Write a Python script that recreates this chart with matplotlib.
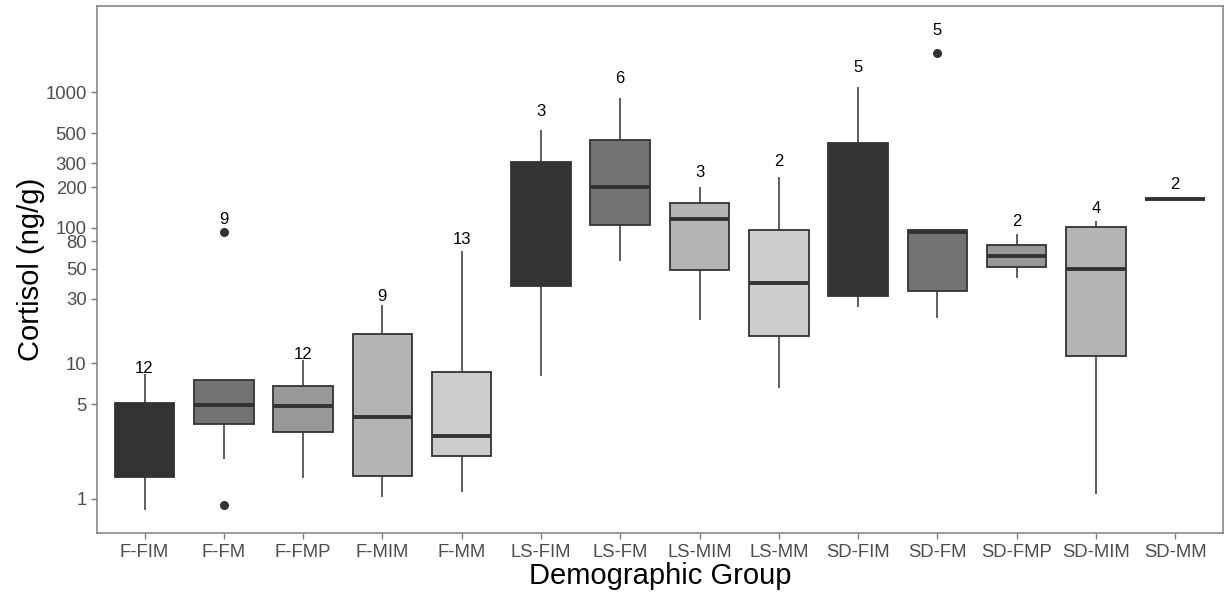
import numpy as np
import matplotlib
matplotlib.use("Agg")
import matplotlib.pyplot as plt
from matplotlib.patches import Rectangle

groups = ["F-FIM", "F-FM", "F-FMP", "F-MIM", "F-MM",
          "LS-FIM", "LS-FM", "LS-MIM", "LS-MM",
          "SD-FIM", "SD-FM", "SD-FMP", "SD-MIM", "SD-MM"]
habitat = ["FIM", "FM", "FMP", "MIM", "MM",
           "FIM", "FM", "MIM", "MM",
           "FIM", "FM", "FMP", "MIM", "MM"]
whisker_low = [0.83, 1.96, 1.42, 1.04, 1.12, 8.06, 56.7, 21.1, 6.54, 26.1, 21.5, 42.7, 1.09, 163]
q1 =          [1.45, 3.57, 3.13, 1.48, 2.07, 37.1, 104.5, 49.3, 16.0, 31.3, 34.1, 51.5, 11.4, 163]
median =      [3.0, 4.93, 4.87, 4.04, 2.91, 100, 200, 116, 39.3, 120, 94, 62.1, 49.5, 163]
q3 =          [5.07, 7.53, 6.84, 16.6, 8.58, 304, 448, 152, 97.1, 422, 96, 75.3, 101.6, 163]
whisker_high = [8.4, 7.6, 10.6, 26.9, 67.6, 530, 912, 200, 237, 1092, 96, 90.8, 112, 163]
outliers = [[], [94, 0.91], [], [], [], [], [], [], [], [], [1959], [], [], []]
counts = [12, 9, 12, 9, 13, 3, 6, 3, 2, 5, 5, 2, 4, 2]

habitat_levels = ["FIM", "FM", "FMP", "MIM", "MM"]
grey_fills = ["#333333", "#737373", "#989898", "#B4B4B4", "#CCCCCC"]
fill_map = dict(zip(habitat_levels, grey_fills))

plt.rcParams['font.family'] = ['Liberation Sans', 'DejaVu Sans']

fig = plt.figure(figsize=(12.24, 5.95), dpi=100)
ax = fig.add_axes([0.0792, 0.104, 0.9198, 0.8866])

edge = "#333333"
width = 0.75
for i, g in enumerate(groups):
    x = i + 1
    # whiskers
    ax.plot([x, x], [q3[i], whisker_high[i]], color=edge, lw=1.1, zorder=2, solid_capstyle='butt')
    ax.plot([x, x], [whisker_low[i], q1[i]], color=edge, lw=1.1, zorder=2, solid_capstyle='butt')
    # box
    rect = Rectangle((x - width / 2, q1[i]), width, q3[i] - q1[i],
                     facecolor=fill_map[habitat[i]], edgecolor=edge, lw=1.3, zorder=3)
    ax.add_patch(rect)
    # median
    ax.plot([x - width / 2, x + width / 2], [median[i], median[i]], color=edge, lw=2.8,
            zorder=4, solid_capstyle='butt')
    # outliers
    for o in outliers[i]:
        ax.plot(x, o, 'o', color=edge, ms=5.5, zorder=5)
    # count label above the highest point
    top = max([whisker_high[i]] + outliers[i])
    label_y = top ** 1.052 * 0.977
    ax.text(x, label_y, str(counts[i]), ha='center', va='center', fontsize=12,
            color='black', zorder=6)

ax.set_yscale('log')
ax.set_ylim(0.56, 4370)
ax.set_xlim(0.4, len(groups) + 0.6)
yticks = [1, 5, 10, 30, 50, 80, 100, 200, 300, 500, 1000]
ax.set_yticks(yticks)
ax.set_yticklabels([str(t) for t in yticks])
ax.yaxis.set_minor_locator(matplotlib.ticker.NullLocator())
ax.set_xticks(range(1, len(groups) + 1))
ax.set_xticklabels(groups)

ax.tick_params(axis='both', colors='#7F7F7F', labelcolor='#4D4D4D', labelsize=13.3,
               length=4, width=1)
for s in ax.spines.values():
    s.set_color('#7F7F7F')
    s.set_linewidth(1.1)

ax.set_ylabel("Cortisol (ng/g)", fontsize=21, color='black', labelpad=0)
ax.set_xlabel("Demographic Group", fontsize=21, color='black', labelpad=1)

fig.savefig("out.png", dpi=100)
